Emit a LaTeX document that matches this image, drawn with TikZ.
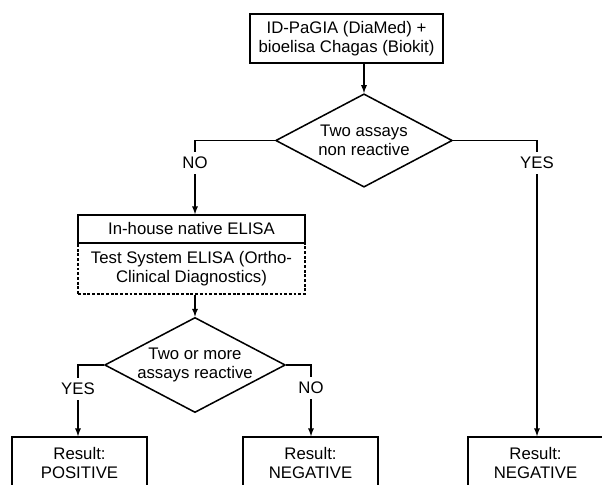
\documentclass[tikz,border=0pt]{standalone}
\usepackage{fontspec}
\setmainfont{Liberation Sans}
\usetikzlibrary{shapes.geometric}

\begin{document}
\begin{tikzpicture}[x=0.03cm, y=-0.03cm, line width=1.3pt,
	every node/.style={font=\fontsize{14.3}{16.5}\selectfont, align=center, inner sep=0pt},
	box/.style={shape=rectangle, draw},
	ask/.style={shape=diamond, draw, shape aspect=1.9, minimum width=5.3cm, minimum height=2.8cm},
	result/.style={shape=rectangle, draw, minimum width=4.05cm, minimum height=1.56cm},
	answer/.style={inner sep=4pt},
	arr/.style={-latex}]
	\clip (0,0) rectangle (602,485);
	\node[box, minimum width=5.79cm, minimum height=1.47cm](start) at (346.5, 38.5){ID-PaGIA (DiaMed) +\\bioelisa Chagas (Biokit)};
	\node[ask](both) at (364, 140.5){Two assays\\non reactive};
	\draw[arr] (start.south -| both.north) -- (both.north);
	% left branch
	\node[answer](no1) at (195, 163){NO};
	\node[box, dash pattern={on 2.5pt off 1.5pt}, minimum width=6.81cm, minimum height=1.53cm](ortho) at (191.5, 268.5){Test System ELISA (Ortho-\\Clinical Diagnostics)};
	\node[box, minimum width=6.81cm, minimum height=0.84cm](native) at (191.5, 229){In-house native ELISA};
	\draw (both.west) -| (no1.north);
	\draw[arr] (no1.south) -- (no1.south |- native.north);
	\node[ask, minimum width=5.28cm](more) at (195, 365){Two or more\\assays reactive};
	\draw[arr] (ortho.south -| more.north) -- (more.north);
	\node[answer](yes2) at (78, 389){YES};
	\node[answer](no2) at (311, 388){NO};
	\draw (more.west) -| (yes2.north);
	\draw (more.east) -| (no2.north);
	\node[result](pos) at (79.5, 463){Result:\\POSITIVE};
	\node[result](neg1) at (310.5, 463){Result:\\NEGATIVE};
	\draw[arr] (yes2.south) -- (yes2.south |- pos.north);
	\draw[arr] (no2.south) -- (no2.south |- neg1.north);
	% right branch
	\node[answer](yes1) at (537, 163){YES};
	\node[result](neg2) at (535.5, 463){Result:\\NEGATIVE};
	\draw (both.east) -| (yes1.north);
	\draw[arr] (yes1.south) -- (yes1.south |- neg2.north);
\end{tikzpicture}
\end{document}
